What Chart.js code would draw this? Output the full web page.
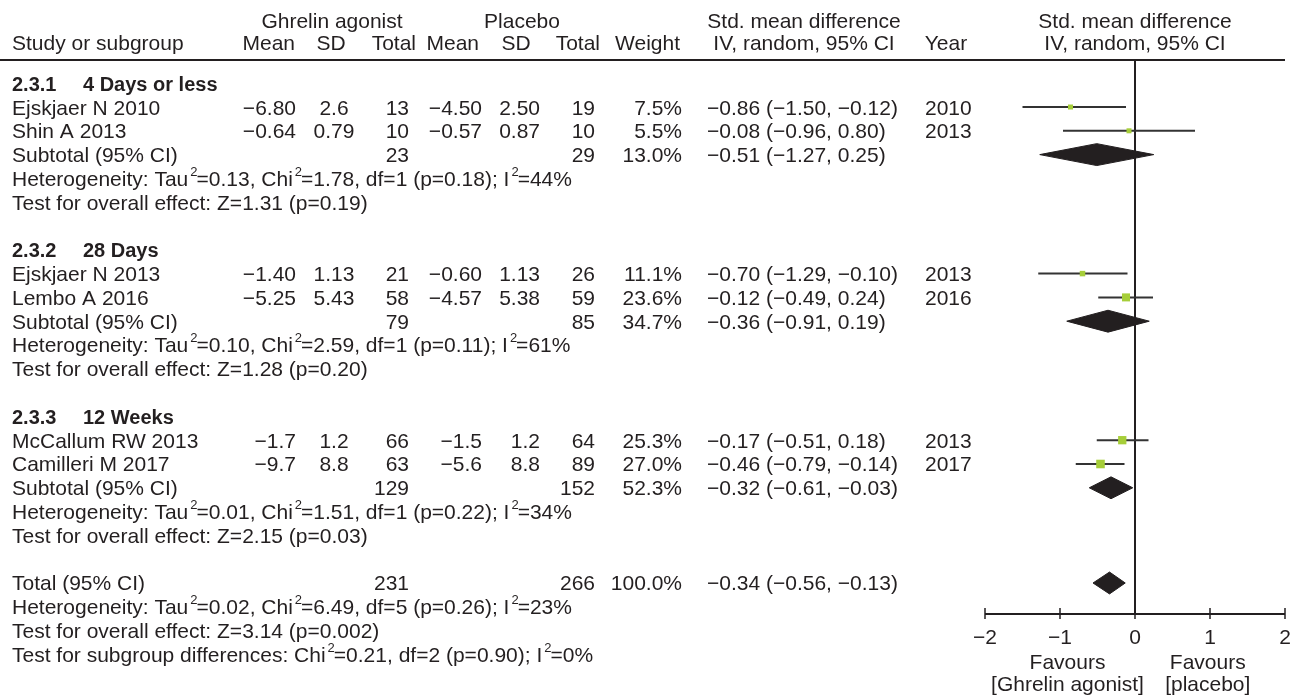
<!DOCTYPE html>
<html>
<head>
<meta charset="utf-8">
<script src="https://cdn.jsdelivr.net/npm/chart.js@4.4.1/dist/chart.umd.min.js"></script>
<style>
  html, body { margin: 0; padding: 0; background: #fff; overflow: hidden; }
  canvas { display: block; }
</style>
</head>
<body>
<canvas id="forest" width="1292" height="697"></canvas>
<script>
// ---- Study-level data ----
const studies      = ['Ejskjaer N 2010', 'Shin A 2013', 'Ejskjaer N 2013', 'Lembo A 2016', 'McCallum RW 2013', 'Camilleri M 2017'];
const studyGroup   = [0, 0, 1, 1, 2, 2];
const studyYear    = ['2010', '2013', '2013', '2016', '2013', '2017'];
const ghrelinMean  = ['\u22126.80', '\u22120.64', '\u22121.40', '\u22125.25', '\u22121.7', '\u22129.7'];
const ghrelinSD    = ['2.6', '0.79', '1.13', '5.43', '1.2', '8.8'];
const ghrelinN     = [13, 10, 21, 58, 66, 63];
const placeboMean  = ['\u22124.50', '\u22120.57', '\u22120.60', '\u22124.57', '\u22121.5', '\u22125.6'];
const placeboSD    = ['2.50', '0.87', '1.13', '5.38', '1.2', '8.8'];
const placeboN     = [19, 10, 26, 59, 64, 89];
const studyWeight  = [7.5, 5.5, 11.1, 23.6, 25.3, 27.0];
const studySMD     = [-0.86, -0.08, -0.70, -0.12, -0.17, -0.46];
const studyLow     = [-1.50, -0.96, -1.29, -0.49, -0.51, -0.79];
const studyHigh    = [-0.12, 0.80, -0.10, 0.24, 0.18, -0.14];

// ---- Subgroup data ----
const groupCode    = ['2.3.1', '2.3.2', '2.3.3'];
const groupName    = ['4 Days or less', '28 Days', '12 Weeks'];
const groupNG      = [23, 79, 129];
const groupNP      = [29, 85, 152];
const groupWeight  = [13.0, 34.7, 52.3];
const groupSMD     = [-0.51, -0.36, -0.32];
const groupLow     = [-1.27, -0.91, -0.61];
const groupHigh    = [0.25, 0.19, -0.03];
const groupTau2    = [0.13, 0.10, 0.01];
const groupChi2    = [1.78, 2.59, 1.51];
const groupDf      = [1, 1, 1];
const groupHetP    = [0.18, 0.11, 0.22];
const groupI2      = [44, 61, 34];
const groupZ       = [1.31, 1.28, 2.15];
const groupZP      = [0.19, 0.20, 0.03];

// ---- Overall pooled result ----
const totalNG = 231, totalNP = 266, totalWeight = 100.0;
const totalSMD = -0.34, totalLow = -0.56, totalHigh = -0.13;
const totalTau2 = 0.02, totalChi2 = 6.49, totalDf = 5, totalHetP = 0.26, totalI2 = 23;
const totalZ = 3.14, totalZP = 0.002;
const diffChi2 = 0.21, diffDf = 2, diffP = 0.90, diffI2 = 0;

// ---- Axis ----
const axisTicks = [-2, -1, 0, 1, 2];
const favourLeft  = ['Favours', '[Ghrelin agonist]'];
const favourRight = ['Favours', '[placebo]'];

// ---- Row layout (one unit = one table line) ----
const ROWS_PER_GROUP = 7;
const groupRow    = g => g * ROWS_PER_GROUP;
const studyRow    = studies.map((s, i) => {
  const g = studyGroup[i];
  const pos = studyGroup.slice(0, i).filter(x => x === g).length;
  return groupRow(g) + 1 + pos;
});
const subtotalRow = g => groupRow(g) + 3;
const TOTAL_ROW   = groupRow(3);

const MINUS = '\u2212';
const num = (v, d) => (v < 0 ? MINUS : '') + Math.abs(v).toFixed(d);
const ciText = (e, l, h) => num(e, 2) + ' (' + num(l, 2) + ', ' + num(h, 2) + ')';
const pText = p => (p < 0.01 ? p.toFixed(3) : p.toFixed(2));

const INK = '#231f20';
const GREEN = '#a6ce39';
const FAMILY = '"Liberation Sans", Arial, Helvetica, sans-serif';
const FONT = '21px ' + FAMILY;
const BOLD = 'bold 20px ' + FAMILY;
const SUP = '13px ' + FAMILY;
const DIAMOND_HALF = 0.46;

// ---- Datasets ----
const datasets = [];
// study point estimates (area proportional to weight)
datasets.push({
  data: studySMD.map((v, i) => ({ x: v, y: studyRow[i] })),
  pointStyle: 'rect',
  pointRadius: studyWeight.map(w => Math.max(5, 1.65 * Math.sqrt(w)) / Math.SQRT2),
  backgroundColor: GREEN,
  borderWidth: 0,
  pointBorderWidth: 0,
  order: 0
});
// pooled diamonds: upper and lower halves, filled between
const diamonds = groupSMD.map((v, g) => ({ e: v, l: groupLow[g], h: groupHigh[g], row: subtotalRow(g) }));
diamonds.push({ e: totalSMD, l: totalLow, h: totalHigh, row: TOTAL_ROW });
diamonds.forEach(d => {
  datasets.push({
    data: [{ x: d.l, y: d.row }, { x: d.e, y: d.row - DIAMOND_HALF }, { x: d.h, y: d.row }],
    showLine: true, pointRadius: 0, borderColor: INK, borderWidth: 1, fill: false, tension: 0, order: 1
  });
  datasets.push({
    data: [{ x: d.l, y: d.row }, { x: d.e, y: d.row + DIAMOND_HALF }, { x: d.h, y: d.row }],
    showLine: true, pointRadius: 0, borderColor: INK, borderWidth: 1, backgroundColor: INK, fill: '-1', tension: 0, order: 1
  });
});
// confidence interval whiskers
studySMD.forEach((v, i) => {
  datasets.push({
    data: [{ x: studyLow[i], y: studyRow[i] }, { x: studyHigh[i], y: studyRow[i] }],
    showLine: true, pointRadius: 0, borderColor: '#333333', borderWidth: 2, fill: false, order: 2
  });
});

// ---- Table, axis and labels ----
const tablePlugin = {
  id: 'forestTable',
  beforeDatasetsDraw(chart) {
    const { ctx, scales: { x }, chartArea } = chart;
    ctx.save();
    ctx.strokeStyle = INK;
    ctx.lineWidth = 2;
    const x0 = Math.round(x.getPixelForValue(0));
    ctx.beginPath();
    ctx.moveTo(x0, chartArea.top);
    ctx.lineTo(x0, chartArea.bottom);
    ctx.stroke();
    ctx.restore();
  },
  afterDraw(chart) {
    const { ctx, scales: { x, y }, chartArea } = chart;
    const rowY = r => y.getPixelForValue(r);
    const BASE = 7.5;
    ctx.save();
    ctx.fillStyle = INK;
    ctx.strokeStyle = INK;

    const text = (s, px, r, align = 'left', font = FONT) => {
      ctx.font = font;
      ctx.textAlign = align;
      ctx.fillText(s, px, rowY(r) + BASE);
    };
    const rich = (parts, px, r) => {
      let cx = px;
      const by = rowY(r) + BASE;
      ctx.textAlign = 'left';
      parts.forEach(([s, sup]) => {
        if (sup) {
          ctx.font = SUP;
          ctx.fillText(s, cx + 2, by - 10);
          cx += ctx.measureText(s).width + 1;
        } else {
          ctx.font = FONT;
          ctx.fillText(s, cx, by);
          cx += ctx.measureText(s).width;
        }
      });
    };
    const hetParts = (tau, chi, df, p, i2) => [
      ['Heterogeneity: Tau', 0], ['2', 1], ['=' + tau.toFixed(2) + ', Chi', 0], ['2', 1],
      ['=' + chi.toFixed(2) + ', df=' + df + ' (p=' + pText(p) + '); I', 0], ['2', 1], ['=' + i2 + '%', 0]
    ];

    // header
    const H1 = -2.655, H2 = -1.69;
    text('Ghrelin agonist', 332, H1, 'center');
    text('Placebo', 522, H1, 'center');
    text('Std. mean difference', 804, H1, 'center');
    text('Std. mean difference', x.getPixelForValue(0), H1, 'center');
    text('Study or subgroup', 12, H2);
    text('Mean', 295, H2, 'right');
    text('SD', 331, H2, 'center');
    text('Total', 416, H2, 'right');
    text('Mean', 479, H2, 'right');
    text('SD', 516, H2, 'center');
    text('Total', 600, H2, 'right');
    text('Weight', 680, H2, 'right');
    text('IV, random, 95% CI', 804, H2, 'center');
    text('Year', 946, H2, 'center');
    text('IV, random, 95% CI', x.getPixelForValue(0), H2, 'center');

    ctx.lineWidth = 2;
    ctx.beginPath();
    ctx.moveTo(0, chartArea.top);
    ctx.lineTo(x.getPixelForValue(2), chartArea.top);
    ctx.stroke();

    // subgroups
    groupCode.forEach((c, g) => {
      const r0 = groupRow(g);
      text(c, 12, r0, 'left', BOLD);
      text(groupName[g], 83, r0, 'left', BOLD);
      const sr = subtotalRow(g);
      text('Subtotal (95% CI)', 12, sr);
      text(String(groupNG[g]), 409, sr, 'right');
      text(String(groupNP[g]), 595, sr, 'right');
      text(groupWeight[g].toFixed(1) + '%', 682, sr, 'right');
      text(ciText(groupSMD[g], groupLow[g], groupHigh[g]), 707, sr);
      rich(hetParts(groupTau2[g], groupChi2[g], groupDf[g], groupHetP[g], groupI2[g]), 12, sr + 1);
      text('Test for overall effect: Z=' + groupZ[g].toFixed(2) + ' (p=' + pText(groupZP[g]) + ')', 12, sr + 2);
    });

    // studies
    studies.forEach((s, i) => {
      const r = studyRow[i];
      text(s, 12, r);
      text(ghrelinMean[i], 296, r, 'right');
      text(ghrelinSD[i], 334, r, 'center');
      text(String(ghrelinN[i]), 409, r, 'right');
      text(placeboMean[i], 482, r, 'right');
      text(placeboSD[i], 540, r, 'right');
      text(String(placeboN[i]), 595, r, 'right');
      text(studyWeight[i].toFixed(1) + '%', 682, r, 'right');
      text(ciText(studySMD[i], studyLow[i], studyHigh[i]), 707, r);
      text(studyYear[i], 925, r);
    });

    // overall
    const T = TOTAL_ROW;
    text('Total (95% CI)', 12, T);
    text(String(totalNG), 409, T, 'right');
    text(String(totalNP), 595, T, 'right');
    text(totalWeight.toFixed(1) + '%', 682, T, 'right');
    text(ciText(totalSMD, totalLow, totalHigh), 707, T);
    rich(hetParts(totalTau2, totalChi2, totalDf, totalHetP, totalI2), 12, T + 1);
    text('Test for overall effect: Z=' + totalZ.toFixed(2) + ' (p=' + pText(totalZP) + ')', 12, T + 2);
    rich([['Test for subgroup differences: Chi', 0], ['2', 1],
          ['=' + diffChi2.toFixed(2) + ', df=' + diffDf + ' (p=' + pText(diffP) + '); I', 0], ['2', 1],
          ['=' + diffI2 + '%', 0]], 12, T + 3);

    // x axis
    const ay = chartArea.bottom;
    ctx.lineWidth = 2;
    ctx.beginPath();
    ctx.moveTo(x.getPixelForValue(axisTicks[0]), ay);
    ctx.lineTo(x.getPixelForValue(axisTicks[axisTicks.length - 1]), ay);
    ctx.stroke();
    ctx.lineWidth = 1.5;
    axisTicks.forEach(t => {
      const px = x.getPixelForValue(t);
      ctx.beginPath();
      ctx.moveTo(px, ay - 6);
      ctx.lineTo(px, ay + 5);
      ctx.stroke();
      ctx.font = FONT;
      ctx.textAlign = 'center';
      ctx.fillText(num(t, 0), px, ay + 30);
    });
    ctx.font = FONT;
    ctx.textAlign = 'center';
    const lx = x.getPixelForValue(-0.9), rx = x.getPixelForValue(0.97);
    ctx.fillText(favourLeft[0], lx, ay + 55);
    ctx.fillText(favourLeft[1], lx, ay + 77);
    ctx.fillText(favourRight[0], rx, ay + 55);
    ctx.fillText(favourRight[1], rx, ay + 77);
    ctx.restore();
  }
};

new Chart(document.getElementById('forest'), {
  type: 'scatter',
  data: { datasets },
  options: {
    responsive: false,
    animation: false,
    devicePixelRatio: 1,
    layout: { padding: { left: 985, right: 7, top: 60, bottom: 83 } },
    scales: {
      x: { type: 'linear', min: -2, max: 2, display: false },
      y: { type: 'linear', min: -0.975, max: 22.303, reverse: true, display: false }
    },
    plugins: { legend: { display: false }, tooltip: { enabled: false } },
    events: []
  },
  plugins: [tablePlugin]
});
</script>
</body>
</html>
